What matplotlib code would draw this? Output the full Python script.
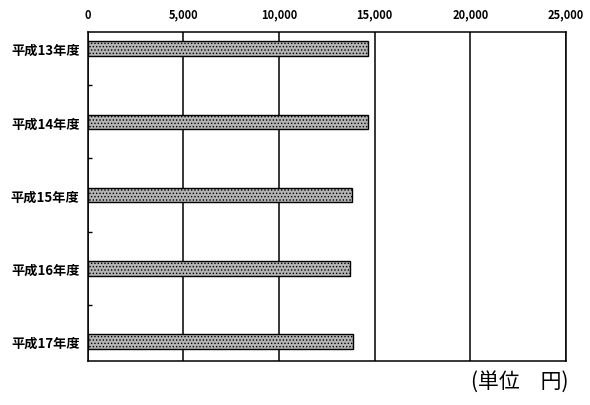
import matplotlib.pyplot as plt
import matplotlib as mpl

plt.rcParams['font.family'] = ['Noto Sans CJK JP', 'DejaVu Sans']
mpl.rcParams['hatch.color'] = '#5a5a5a'
mpl.rcParams['hatch.linewidth'] = 0.6

# data
years = ['平成13年度', '平成14年度', '平成15年度', '平成16年度', '平成17年度']
amounts = [14660, 14650, 13820, 13700, 13880]
xticks = [0, 5000, 10000, 15000, 20000, 25000]

fig = plt.figure(figsize=(5.9, 4.06), dpi=100)
ax = fig.add_axes([0.149, 0.108, 0.81, 0.811])

pos = list(range(len(years)))
ax.barh(pos, amounts, height=0.2, color='#b4b4b4', edgecolor='black',
        linewidth=1.0, hatch='.....', zorder=3)

ax.set_xlim(0, 25000)
ax.set_ylim(len(years) - 1 + 0.27, -0.23)
ax.set_xticks(xticks)
ax.set_xticklabels([f'{v:,}' for v in xticks], fontsize=8, fontweight='bold')
ax.xaxis.tick_top()
ax.tick_params(axis='x', length=0, pad=8)
ax.set_yticks(pos)
ax.set_yticklabels(years, fontsize=9.5, fontweight='bold')
ax.tick_params(axis='y', length=0, pad=6)
ax.set_yticks([p + 0.5 for p in pos[:-1]], minor=True)
ax.tick_params(axis='y', which='minor', direction='in', length=3, width=1)

ax.grid(axis='x', color='black', linewidth=1.1, zorder=0)
for s in ax.spines.values():
    s.set_linewidth(1.1)

fig.text(0.963, 0.059, '(単位　円)', ha='right', va='center', fontsize=15)

fig.savefig('out.png')
